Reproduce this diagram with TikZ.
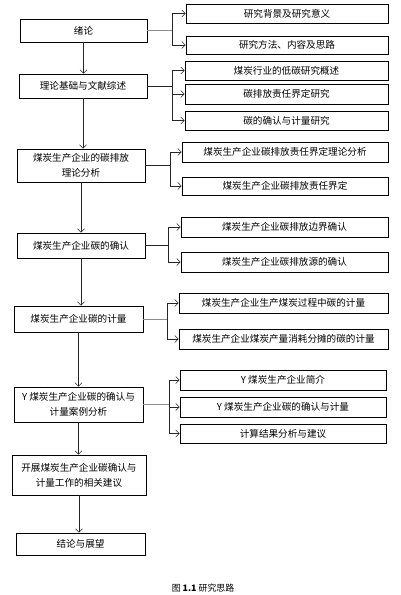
\documentclass[tikz,border=0pt]{standalone}
\usepackage{fontspec}
\setmainfont{Noto Sans CJK SC}
\usetikzlibrary{arrows.meta}
\begin{document}
\begin{tikzpicture}[x=1pt,y=1pt,
  box/.style={draw=black,line width=0.7pt,inner sep=1pt,align=center,font=\fontsize{9.6}{15}\selectfont},
  arr/.style={draw=black!85,line width=0.6pt,-{Straight Barb[length=3.5pt,width=7pt]}},
  ln/.style={draw=black!85,line width=0.6pt},
  gln/.style={draw=black!45,line width=1pt}]
\useasboundingbox (0,0) rectangle (400,-595);
% left column
\node[box,minimum width=127,minimum height=23] (L1) at (83.5,-30.5) {绪论};
\node[box,minimum width=128,minimum height=24] (L2) at (83,-86) {理论基础与文献综述};
\node[box,minimum width=128,minimum height=33] (L3) at (81,-165.5) {煤炭生产企业的碳排放\\理论分析};
\node[box,minimum width=128,minimum height=25] (L4) at (81,-245.5) {煤炭生产企业碳的确认};
\node[box,minimum width=129,minimum height=26] (L5) at (78.5,-319) {煤炭生产企业碳的计量};
\node[box,minimum width=129,minimum height=35] (L6) at (78.5,-404.5) {Y 煤炭生产企业碳的确认与\\计量案例分析};
\node[box,minimum width=134,minimum height=40] (L7) at (79,-475) {开展煤炭生产企业碳确认与\\计量工作的相关建议};
\node[box,minimum width=129,minimum height=22] (L8) at (80.5,-544) {结论与展望};
% right column
\node[box,minimum width=202,minimum height=19] (R1a) at (287,-13.5) {研究背景及研究意义};
\node[box,minimum width=202,minimum height=18] (R1b) at (287,-45) {研究方法、内容及思路};
\node[box,minimum width=203,minimum height=19] (R2a) at (286.5,-70.5) {煤炭行业的低碳研究概述};
\node[box,minimum width=203,minimum height=20] (R2b) at (286.5,-94) {碳排放责任界定研究};
\node[box,minimum width=203,minimum height=19] (R2c) at (286.5,-120.5) {碳的确认与计量研究};
\node[box,minimum width=206,minimum height=20] (R3a) at (285,-152) {煤炭生产企业碳排放责任界定理论分析};
\node[box,minimum width=206,minimum height=18] (R3b) at (285,-186) {煤炭生产企业碳排放责任界定};
\node[box,minimum width=207,minimum height=20] (R4a) at (284.5,-227) {煤炭生产企业碳排放边界确认};
\node[box,minimum width=207,minimum height=20] (R4b) at (284.5,-262) {煤炭生产企业碳排放源的确认};
\node[box,minimum width=209,minimum height=20] (R5a) at (283.5,-303) {煤炭生产企业生产煤炭过程中碳的计量};
\node[box,minimum width=209,minimum height=20] (R5b) at (283.5,-339) {煤炭生产企业煤炭产量消耗分摊的碳的计量};
\node[box,minimum width=206,minimum height=20] (R6a) at (283,-380) {Y 煤炭生产企业简介};
\node[box,minimum width=206,minimum height=20] (R6b) at (283,-407) {Y 煤炭生产企业碳的确认与计量};
\node[box,minimum width=206,minimum height=19] (R6c) at (283,-433.5) {计算结果分析与建议};
% caption
\node[font=\fontsize{8.9}{10}\selectfont] (cap) at (203,-588) {图 \textbf{1.1} 研究思路};
% vertical arrows
\draw[arr] (L1.south) -- (L1.south |- L2.north);
\draw[arr] (L2.south) -- (L2.south |- L3.north);
\draw[arr] (L3.south) -- (L3.south |- L4.north);
\draw[arr] (L4.south) -- (L4.south |- L5.north);
\draw[arr] (L5.south) -- (L5.south |- L6.north);
\draw[arr] (L6.south) -- (L6.south |- L7.north);
\draw[arr] (L7.south) -- (L7.south |- L8.north);
% trunks
\coordinate (T1) at (172,0);
\coordinate (T2) at (172,0);
\coordinate (T3) at (170,0);
\coordinate (T4) at (168,0);
\coordinate (T5) at (167,0);
\coordinate (T6) at (169,0);
% group 1
\draw[gln] (L1.east) -- (T1 |- L1.east);
\draw[arr] (T1 |- L1.east) |- (R1a.west);
\draw[arr] (T1 |- L1.east) |- (R1b.west);
% group 2
\draw[ln] (L2.east) -- (T2 |- L2.east);
\draw[arr] (T2 |- L2.east) |- (R2a.west);
\draw[arr] (T2 |- L2.east) |- (R2b.west);
\draw[arr] (T2 |- L2.east) |- (R2c.west);
% group 3
\draw[ln] (L3.east) -- (T3 |- L3.east);
\draw[arr] (T3 |- L3.east) |- (R3a.west);
\draw[arr] (T3 |- L3.east) |- (R3b.west);
% group 4
\draw[ln] (L4.east) -- (T4 |- L4.east);
\draw[arr] (T4 |- L4.east) |- (R4a.west);
\draw[arr] (T4 |- L4.east) |- (R4b.west);
% group 5
\draw[gln] (L5.east) -- (T5 |- L5.east);
\draw[arr] (T5 |- L5.east) |- (R5a.west);
\draw[arr] (T5 |- L5.east) |- (R5b.west);
% group 6
\draw[gln] (L6.east) -- (T6 |- L6.east);
\draw[arr] (T6 |- L6.east) |- (R6a.west);
\draw[arr] (T6 |- L6.east) |- (R6b.west);
\draw[arr] (T6 |- L6.east) |- (R6c.west);
\end{tikzpicture}
\end{document}
